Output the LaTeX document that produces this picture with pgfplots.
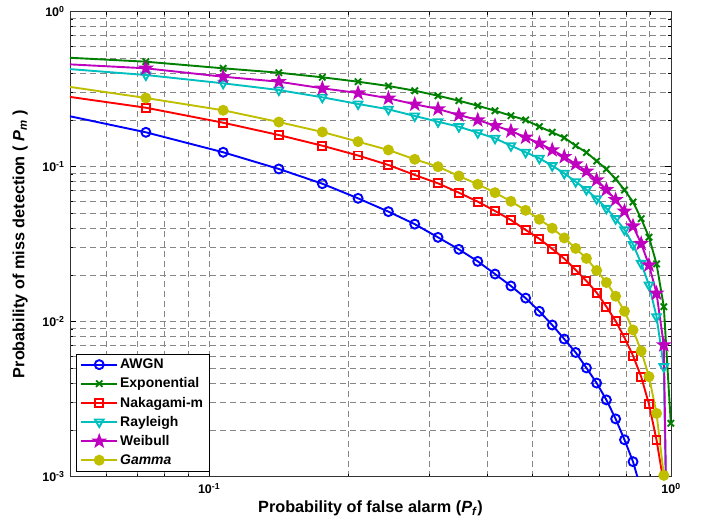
\documentclass[border=0pt]{standalone}
\usepackage{fontspec}
\setmainfont{Liberation Sans}
\usepackage{pgfplots}
\pgfplotsset{compat=1.18}
\usepackage{pgfplotstable}
\usetikzlibrary{plotmarks}

\definecolor{mblue}{rgb}{0,0,1}
\definecolor{mgreen}{rgb}{0,0.5,0}
\definecolor{mred}{rgb}{1,0,0}
\definecolor{mcyan}{rgb}{0,0.75,0.75}
\definecolor{mmag}{rgb}{0.75,0,0.75}
\definecolor{myel}{rgb}{0.75,0.75,0}

\pgfdeclareplotmark{fivestar}{%
  \pgfpathmoveto{\pgfpointpolar{90}{\pgfplotmarksize}}%
  \pgfpathlineto{\pgfpointpolar{126}{0.4\pgfplotmarksize}}%
  \pgfpathlineto{\pgfpointpolar{162}{\pgfplotmarksize}}%
  \pgfpathlineto{\pgfpointpolar{198}{0.4\pgfplotmarksize}}%
  \pgfpathlineto{\pgfpointpolar{234}{\pgfplotmarksize}}%
  \pgfpathlineto{\pgfpointpolar{270}{0.4\pgfplotmarksize}}%
  \pgfpathlineto{\pgfpointpolar{306}{\pgfplotmarksize}}%
  \pgfpathlineto{\pgfpointpolar{342}{0.4\pgfplotmarksize}}%
  \pgfpathlineto{\pgfpointpolar{18}{\pgfplotmarksize}}%
  \pgfpathlineto{\pgfpointpolar{54}{0.4\pgfplotmarksize}}%
  \pgfpathclose
  \pgfusepathqfillstroke}

\pgfplotstableread{
x awgn expo naka rayl weib gamma
0.0387 0.2485 0.5248 0.3144 0.4522 0.4758 0.3658
0.0730 0.1667 0.4758 0.2402 0.3905 0.4313 0.2775
0.1073 0.1239 0.4313 0.1922 0.3452 0.3807 0.2312
0.1416 0.0967 0.4040 0.1601 0.3124 0.3535 0.1942
0.1759 0.0777 0.3774 0.1366 0.2804 0.3205 0.1675
0.2102 0.0625 0.3535 0.1181 0.2539 0.2989 0.1450
0.2445 0.0513 0.3316 0.1026 0.2346 0.2762 0.1282
0.2788 0.0426 0.3093 0.0884 0.2124 0.2527 0.1116
0.3131 0.0350 0.2871 0.0781 0.1950 0.2357 0.1000
0.3474 0.0293 0.2665 0.0680 0.1812 0.2156 0.0871
0.3817 0.0245 0.2474 0.0595 0.1657 0.2002 0.0770
0.4160 0.0203 0.2298 0.0518 0.1525 0.1839 0.0680
0.4503 0.0170 0.2133 0.0453 0.1366 0.1700 0.0598
0.4846 0.0142 0.2002 0.0391 0.1239 0.1548 0.0523
0.5189 0.01167 0.1812 0.0343 0.1133 0.1416 0.0458
0.5532 0.00952 0.1667 0.0295 0.1015 0.1282 0.0401
0.5875 0.00773 0.1538 0.0255 0.0907 0.1160 0.0347
0.6218 0.00633 0.1366 0.0216 0.0800 0.1041 0.0297
0.6561 0.00503 0.1235 0.0183 0.0711 0.0934 0.0256
0.6904 0.00402 0.1088 0.0154 0.0621 0.0821 0.0214
0.7247 0.00313 0.0964 0.0125 0.0539 0.0711 0.0179
0.7590 0.00236 0.0833 0.0101 0.0462 0.0612 0.0146
0.7933 0.00173 0.0708 0.00789 0.0392 0.0516 0.01167
0.8276 0.00125 0.0592 0.00603 0.0315 0.0414 0.00884
0.8619 0.00082 0.0462 0.00442 0.0238 0.0319 0.00647
0.8962 nan 0.0351 0.00293 0.01725 0.0232 0.00442
0.9305 nan 0.0236 0.001725 0.01077 0.01525 0.00256
0.9648 nan 0.0125 0.0009 0.00513 0.00708 0.00102
0.9991 nan 0.00221 nan 0.00001 0.00001 nan
}\data

\begin{document}
\begin{tikzpicture}
\begin{axis}[
  name=ax,
  scale only axis, width=601bp, height=465bp,
  xmode=log, ymode=log,
  xmin=0.05, xmax=1, ymin=1e-3, ymax=1,
  xtick={0.1,1},
  xticklabels={10\textsuperscript{-1}, 10\textsuperscript{0}},
  ytick={0.001,0.01,0.1,1},
  yticklabels={10\textsuperscript{-3},10\textsuperscript{-2},10\textsuperscript{-1},10\textsuperscript{0}},
  minor xtick={0.06,0.07,0.08,0.09,0.2,0.3,0.4,0.5,0.6,0.7,0.8,0.9},
  minor ytick={0.002,0.003,0.004,0.005,0.006,0.007,0.008,0.009,0.02,0.03,0.04,0.05,0.06,0.07,0.08,0.09,0.2,0.3,0.4,0.5,0.6,0.7,0.8,0.9},
  grid=both,
  major grid style={gray!95, dash pattern=on 6bp off 4bp, line width=0.8bp},
  minor grid style={gray!95, dash pattern=on 6bp off 4bp, line width=0.8bp},
  tick style={black, line width=0.5bp},
  major tick length=6bp, minor tick length=3bp,
  axis line style={black!80, line width=0.7bp},
  tick label style={font=\fontsize{12.5}{14}\selectfont\bfseries},
  xticklabel style={yshift=-3bp},
  yticklabel style={xshift=-2bp},
  label style={font=\fontsize{16.3}{19}\selectfont\bfseries},
  xlabel={Probability of false alarm (\textit{P}\textsubscript{\textit{f}})},
  ylabel={Probability of miss detection ( \textit{P}\textsubscript{\textit{m}} )},
  xlabel style={at={(axis description cs:0.5,-0.068)}, anchor=center},
  ylabel style={at={(axis description cs:-0.083,0.5)}, anchor=center},
  legend style={at={(0.01,0.012)}, anchor=south west, draw=black, line width=0.6bp,
    font=\fontsize{14}{16}\selectfont\bfseries, row sep=3.6bp, inner xsep=4bp, inner ysep=3bp},
  legend cell align=left,
  legend image code/.code={\draw[mark repeat=2,mark phase=2] plot coordinates {(0bp,0bp) (18bp,0bp) (36bp,0bp)};},
  every axis plot/.append style={line width=1.9bp},
]
\addplot[color=mblue, mark=o, mark size=4.5bp] table[x=x,y=awgn]{\data};
\addlegendentry{AWGN}
\addplot[color=mgreen, mark=x, mark size=4.5bp] table[x=x,y=expo]{\data};
\addlegendentry{Exponential}
\addplot[color=mred, mark=square, mark size=4bp] table[x=x,y=naka]{\data};
\addlegendentry{Nakagami-m}
\addplot[color=mcyan, mark=triangle, mark size=5bp, mark options={rotate=180}] table[x=x,y=rayl]{\data};
\addlegendentry{Rayleigh}
\addplot[color=mmag, mark=fivestar, mark size=5.5bp, mark options={fill=mmag}] table[x=x,y=weib]{\data};
\addlegendentry{Weibull}
\addplot[color=myel, mark=*, mark size=4.5bp, mark options={fill=myel}] table[x=x,y=gamma]{\data};
\addlegendentry{\textit{Gamma}}
\end{axis}
\pgfresetboundingbox
\path[use as bounding box] ([shift={(-70bp,-47.3bp)}]ax.south west) rectangle ([shift={(37bp,11.7bp)}]ax.north east);
\end{tikzpicture}
\end{document}
